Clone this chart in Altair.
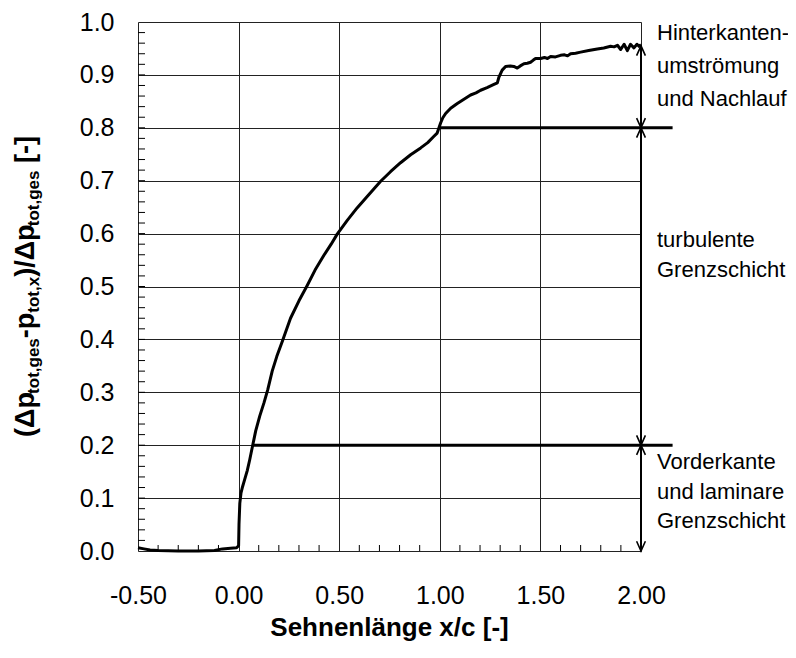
import altair as alt
import pandas as pd
import numpy as np

FONT = "Liberation Sans"
W, H = 503, 529

# ---- curve values ----
x_vals = [-0.50, -0.47, -0.44, -0.40, -0.30, -0.20, -0.12, -0.08, -0.04, -0.01,
          0.000, 0.002, 0.006, 0.012, 0.020, 0.030, 0.043, 0.055, 0.068, 0.085, 0.105,
          0.126, 0.145, 0.167, 0.190, 0.217, 0.258, 0.300, 0.341, 0.380, 0.424,
          0.460, 0.490, 0.540, 0.590, 0.650, 0.706, 0.755, 0.805, 0.855, 0.905,
          0.940, 0.971, 0.987, 1.004, 1.015, 1.029, 1.054, 1.087, 1.120, 1.153,
          1.180, 1.203, 1.235, 1.269, 1.286, 1.294, 1.310, 1.327, 1.350, 1.368,
          1.385, 1.400, 1.418, 1.435, 1.451, 1.465, 1.476, 1.501, 1.520, 1.535,
          1.551, 1.575, 1.600, 1.620, 1.635, 1.650, 1.675, 1.700, 1.740, 1.783,
          1.815, 1.849, 1.866, 1.883, 1.899, 1.916, 1.932, 1.948, 1.965, 1.980,
          1.990, 2.000]
y_vals = [0.006, 0.004, 0.002, 0.001, 0.000, 0.000, 0.001, 0.004, 0.005, 0.006,
          0.010, 0.050, 0.090, 0.110, 0.122, 0.135, 0.152, 0.172, 0.196, 0.227, 0.255,
          0.280, 0.305, 0.340, 0.368, 0.396, 0.440, 0.473, 0.502, 0.531, 0.559,
          0.580, 0.599, 0.625, 0.649, 0.675, 0.699, 0.717, 0.734, 0.749, 0.762,
          0.772, 0.784, 0.790, 0.809, 0.819, 0.827, 0.837, 0.846, 0.854, 0.862,
          0.866, 0.871, 0.876, 0.882, 0.885, 0.896, 0.909, 0.916, 0.917, 0.916,
          0.913, 0.917, 0.921, 0.922, 0.924, 0.928, 0.931, 0.931, 0.933, 0.931,
          0.935, 0.934, 0.937, 0.938, 0.936, 0.940, 0.941, 0.943, 0.946, 0.949,
          0.951, 0.954, 0.953, 0.956, 0.948, 0.958, 0.946, 0.958, 0.951, 0.958,
          0.954, 0.957]

# boundary lines (region borders)
bound_x = [0.07, 1.0]
bound_x2 = [2.157, 2.157]
bound_y = [0.2, 0.8]

# vertical dimension line and arrow heads
dim_x = 2.0
dim_top = 0.955
arrow_down_y = [0.0, 0.2, 0.8]
arrow_up_y = [0.2, 0.8, 0.955]

x_major = [-0.5, 0.0, 0.5, 1.0, 1.5, 2.0]
y_major = [0.0, 0.1, 0.2, 0.3, 0.4, 0.5, 0.6, 0.7, 0.8, 0.9, 1.0]
x_minor = [-0.4, -0.3, -0.2, -0.1, 0.1, 0.2, 0.3, 0.4, 0.6, 0.7, 0.8, 0.9,
           1.1, 1.2, 1.3, 1.4, 1.6, 1.7, 1.8, 1.9]
y_minor = [round(0.02 * i, 2) for i in range(1, 50)]

annot_top = ["Hinterkanten-", "umströmung", "und Nachlauf"]
annot_mid = ["turbulente", "Grenzschicht"]
annot_bot = ["Vorderkante", "und laminare", "Grenzschicht"]

x_title = "Sehnenlänge x/c [-]"
y_title_parts = [("(Δp", "main"), ("tot,ges", "sub"), ("-p", "main"), ("tot,x", "sub"),
                 (")/Δp", "main"), ("tot,ges", "sub"), (" ", "gap"), ("[-]", "main")]

# ---- chart ----
xscale = alt.Scale(domain=[-0.5, 2.0], nice=False, zero=False)
yscale = alt.Scale(domain=[0.0, 1.0], nice=False, zero=False)

x_axis = alt.Axis(values=x_major, grid=True, gridColor="#222", gridWidth=1,
                  ticks=False, domain=False, labelFont=FONT, labelFontSize=25,
                  labelColor="black", labelPadding=32, labelFlush=False,
                  labelOverlap=False, title=None,
                  labelExpr="datum.value < 0 ? '-' + format(-datum.value, '.2f') : format(datum.value, '.2f')")
y_axis = alt.Axis(values=y_major, format=".1f", grid=True, gridColor="#222", gridWidth=1,
                  ticks=False, domain=False, labelFont=FONT, labelFontSize=25,
                  labelColor="black", labelPadding=24, labelFlush=False,
                  labelOverlap=False, title=None)

curve = pd.DataFrame({"x": x_vals, "y": y_vals, "i": list(range(len(x_vals)))})
line = alt.Chart(curve).mark_line(color="black", strokeWidth=3, strokeJoin="round").encode(
    x=alt.X("x:Q", scale=xscale, axis=x_axis),
    y=alt.Y("y:Q", scale=yscale, axis=y_axis),
    order="i:Q",
)

bounds = pd.DataFrame({"x": bound_x, "x2": bound_x2, "y": bound_y})
bound_rules = alt.Chart(bounds).mark_rule(color="black", strokeWidth=3).encode(
    x=alt.X("x:Q", scale=xscale, axis=x_axis), x2="x2:Q",
    y=alt.Y("y:Q", scale=yscale, axis=y_axis),
)

dim = pd.DataFrame({"x": [dim_x], "y": [0.0], "y2": [dim_top]})
dim_rule = alt.Chart(dim).mark_rule(color="black", strokeWidth=2).encode(
    x=alt.X("x:Q", scale=xscale, axis=x_axis),
    y=alt.Y("y:Q", scale=yscale, axis=y_axis), y2="y2:Q",
)

down_path = "M-0.45,-1L0,0L0.45,-1"
up_path = "M-0.45,1L0,0L0.45,1"
arr_down = alt.Chart(pd.DataFrame({"x": [dim_x] * len(arrow_down_y), "y": arrow_down_y})).mark_point(
    shape=down_path, filled=False, color="black", strokeWidth=1.6, size=380, opacity=1
).encode(x=alt.X("x:Q", scale=xscale, axis=x_axis), y=alt.Y("y:Q", scale=yscale, axis=y_axis))
arr_up = alt.Chart(pd.DataFrame({"x": [dim_x] * len(arrow_up_y), "y": arrow_up_y})).mark_point(
    shape=up_path, filled=False, color="black", strokeWidth=1.6, size=380, opacity=1
).encode(x=alt.X("x:Q", scale=xscale, axis=x_axis), y=alt.Y("y:Q", scale=yscale, axis=y_axis))

ymin_ticks = alt.Chart(pd.DataFrame({"y": y_minor})).mark_rule(color="black", strokeWidth=1).encode(
    y=alt.Y("y:Q", scale=yscale, axis=y_axis), x=alt.value(0), x2=alt.value(7))
xmin_ticks = alt.Chart(pd.DataFrame({"x": x_minor})).mark_rule(color="black", strokeWidth=1).encode(
    x=alt.X("x:Q", scale=xscale, axis=x_axis), y=alt.value(H), y2=alt.value(H - 6))

one = pd.DataFrame({"k": [0]})
texts = []


def add_lines(lines, y0, step):
    for j, t in enumerate(lines):
        texts.append(alt.Chart(one).mark_text(
            text=t, font=FONT, fontSize=22, color="black", align="left", baseline="middle"
        ).encode(x=alt.value(519), y=alt.value(y0 + j * step)))


add_lines(annot_top, 11, 33)
add_lines(annot_mid, 218, 30)
add_lines(annot_bot, 440, 29.5)

texts.append(alt.Chart(one).mark_text(
    text=x_title, font=FONT, fontSize=26, fontWeight="bold", color="black",
    align="center", baseline="middle").encode(x=alt.value(W / 2), y=alt.value(606)))

# y-axis title assembled from pieces (with subscripts)
cw = {'(': 0.333, ')': 0.333, 'Δ': 0.65, 'p': 0.611, '-': 0.333, '/': 0.278, ' ': 0.278,
      '[': 0.333, ']': 0.333, 't': 0.333, 'o': 0.611, ',': 0.278, 'g': 0.611, 'e': 0.556,
      's': 0.556, 'x': 0.556}
FMAIN, FSUB = 27, 17
size_of = {"main": FMAIN, "sub": FSUB, "gap": FMAIN}
widths = [sum(cw[c] for c in s) * size_of[k] for s, k in y_title_parts]
total = sum(widths)
ypos = H / 2 + total / 2
for (s, k), w in zip(y_title_parts, widths):
    if k != "gap":
        texts.append(alt.Chart(one).mark_text(
            text=s, font=FONT, fontSize=size_of[k], fontWeight="bold",
            color="black", align="left", baseline="alphabetic", angle=270
        ).encode(x=alt.value(-104 if k == "main" else -99), y=alt.value(ypos)))
    ypos -= w

chart = alt.layer(
    line, ymin_ticks, xmin_ticks, bound_rules, dim_rule, arr_down, arr_up, *texts
).properties(
    width=W, height=H,
    autosize=alt.AutoSizeParams(type="none"),
    padding={"left": 130, "top": 14, "right": 147, "bottom": 90},
).configure_view(stroke="black", strokeWidth=1.5).configure(background="white")

chart.save("out.html", embed_options={"renderer": "svg", "actions": False})
